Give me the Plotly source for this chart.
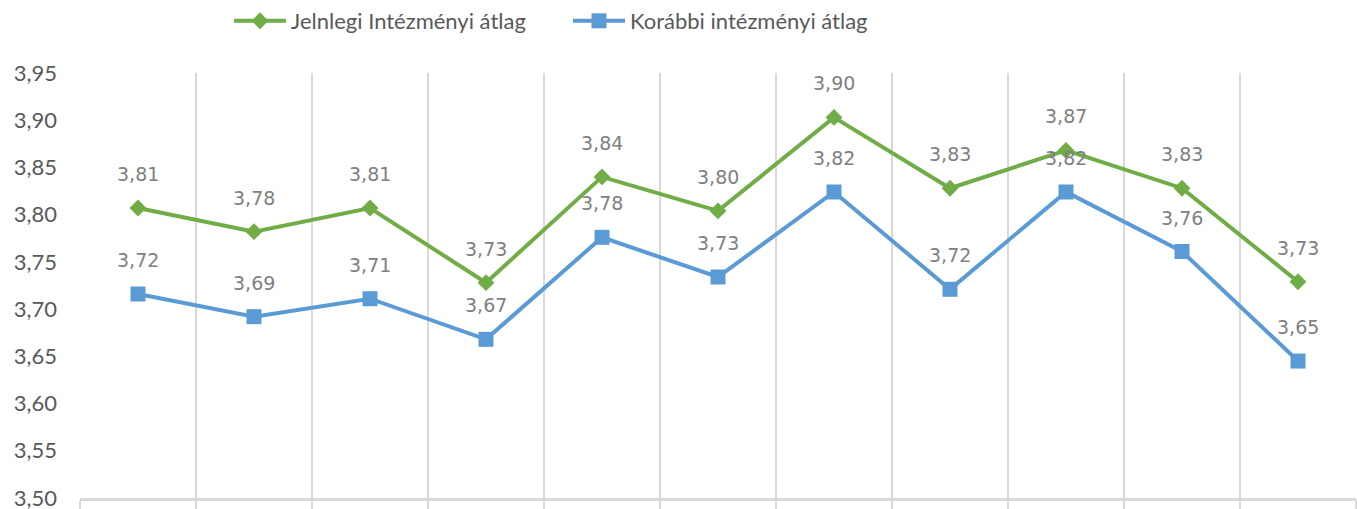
import plotly.graph_objects as go

categories = ["K1", "K2", "K3", "K4", "K5", "K6", "K7", "K8", "K9", "K10", "K11"]
jelenlegi = [3.807, 3.782, 3.807, 3.728, 3.840, 3.804, 3.903, 3.828, 3.868, 3.828, 3.729]
korabbi = [3.716, 3.692, 3.711, 3.668, 3.776, 3.734, 3.824, 3.721, 3.824, 3.761, 3.645]
y_ticks = [3.50, 3.55, 3.60, 3.65, 3.70, 3.75, 3.80, 3.85, 3.90, 3.95]

GREEN = "#70AD47"
BLUE = "#5B9BD5"
GRID = "#D9D9D9"

W, H = 1357, 509

fig = go.Figure()
fig.add_trace(go.Scatter(
    x=categories, y=korabbi, mode="lines+markers",
    name="Korábbi intézményi átlag",
    line=dict(color=BLUE, width=4),
    marker=dict(symbol="square", size=15, color=BLUE),
))
fig.add_trace(go.Scatter(
    x=categories, y=jelenlegi, mode="lines+markers",
    name="Jelnlegi Intézményi átlag",
    line=dict(color=GREEN, width=4),
    marker=dict(symbol="diamond", size=13, color=GREEN),
))

annotations = []
for series in (korabbi, jelenlegi):
    for i, v in enumerate(series):
        annotations.append(dict(
            x=i, y=v, xref="x", yref="y",
            text=f"{v:.2f}".replace(".", ","),
            showarrow=False, yanchor="middle", yshift=34,
            font=dict(family="DejaVu Sans", size=19, color="#808080"),
        ))

fig.update_layout(
    width=W, height=H,
    margin=dict(l=80, r=1, t=73, b=11, autoexpand=False),
    paper_bgcolor="white", plot_bgcolor="white",
    separators=",.",
    showlegend=True,
    legend=dict(
        orientation="h", x=229 / W, xanchor="left", y=1, yanchor="top",
        xref="container", yref="container", traceorder="reversed",
        itemwidth=52, entrywidth=272, entrywidthmode="pixels",
        font=dict(family="Lato", size=22, color="#595959"),
    ),
    annotations=annotations,
)

fig.update_xaxes(
    type="category", tickson="boundaries", showgrid=True, gridcolor=GRID, gridwidth=2,
    showticklabels=False, ticks="outside", ticklen=12, tickcolor=GRID, tickwidth=2,
    showline=True, linecolor=GRID, linewidth=3, range=[-0.5, 10.5], automargin=False,
)
fig.update_yaxes(
    range=[3.50, 3.95], tickvals=y_ticks, tickformat=".2f",
    showgrid=False, zeroline=False, showline=False,
    ticklabelstandoff=22, automargin=False, ticklabeloverflow="allow",
    tickfont=dict(family="Lato", size=22, color="#595959"),
)

fig.write_html(
    "out.html",
    config={"displayModeBar": False},
    post_script="document.body.style.margin='0';document.body.style.overflow='hidden';",
)
